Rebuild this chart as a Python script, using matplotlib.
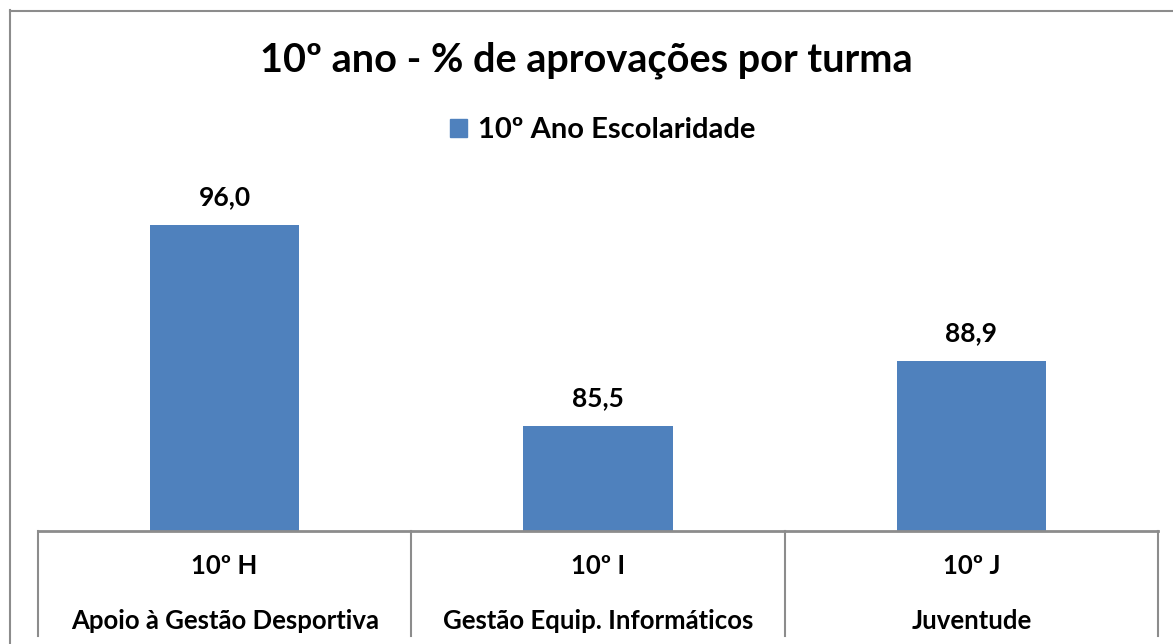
import matplotlib
matplotlib.use("Agg")
import matplotlib.pyplot as plt
from matplotlib.patches import Patch
from matplotlib.lines import Line2D

turmas = ["10º H", "10º I", "10º J"]
cursos = ["Apoio à Gestão Desportiva", "Gestão Equip. Informáticos", "Juventude"]
valores = [96.0, 85.5, 88.9]
serie = "10º Ano Escolaridade"
titulo = "10º ano - % de aprovações por turma"

W, H = 1173, 644
fig = plt.figure(figsize=(W / 100, H / 100), dpi=100)
plt.rcParams['font.family'] = ['Lato', 'DejaVu Sans']

bar_color = "#4F81BD"
grid_col = "#8C8C8C"

def fx(px):
    return px / W

def fy(py):
    return 1 - py / H

# chart outer border (left and top visible)
fig.add_artist(Line2D([fx(9.5), fx(9.5)], [fy(10), 0], color=grid_col, lw=1.5))
fig.add_artist(Line2D([fx(9.5), 1], [fy(10.5), fy(10.5)], color=grid_col, lw=1.5))

ax_left, ax_right, ax_top, ax_bot = 38, 1158, 148, 531
ax = fig.add_axes([fx(ax_left), fy(ax_bot), fx(ax_right - ax_left), (ax_bot - ax_top) / H])
x = list(range(len(valores)))
bars = ax.bar(x, valores, width=0.4, color=bar_color, zorder=2)
ax.set_xlim(-0.5, len(valores) - 0.5)
ax.set_ylim(80, 100)
for s in ax.spines.values():
    s.set_visible(False)
ax.set_xticks([])
ax.set_yticks([])

for xi, v in zip(x, valores):
    ax.annotate(f"{v:.1f}".replace(".", ","), (xi, v), xytext=(0, 11), textcoords="offset points",
                ha="center", va="bottom", fontsize=19, fontweight="bold", color="black")

# table-like category axis
axh = ax_bot - ax_top
trans = ax.get_xaxis_transform()
ax.plot([-0.5, len(valores) - 0.5], [0, 0], transform=trans, color=grid_col, lw=2, clip_on=False, zorder=3)
for b in [i - 0.5 for i in range(len(valores) + 1)]:
    ax.plot([b, b], [0, -(636 - ax_bot) / axh], transform=trans, color=grid_col, lw=1.5, clip_on=False)
for xi, t, c in zip(x, turmas, cursos):
    ax.text(xi, -(566 - ax_bot) / axh, t, transform=trans, ha="center", va="center",
            fontsize=18.5, fontweight="bold")
    ax.text(xi, -(621 - ax_bot) / axh, c, transform=trans, ha="center", va="center",
            fontsize=18.5, fontweight="bold")

fig.text(0.5, fy(60), titulo, ha="center", va="center", fontsize=28.5, fontweight="bold")
fig.legend(handles=[Patch(color=bar_color, label=serie)], loc="center",
           bbox_to_anchor=(fx(603), fy(130)), frameon=False, handlelength=0.58, handleheight=0.58,
           handletextpad=0.38, prop={"size": 21, "weight": "bold"})

fig.savefig("out.png", dpi=100)
